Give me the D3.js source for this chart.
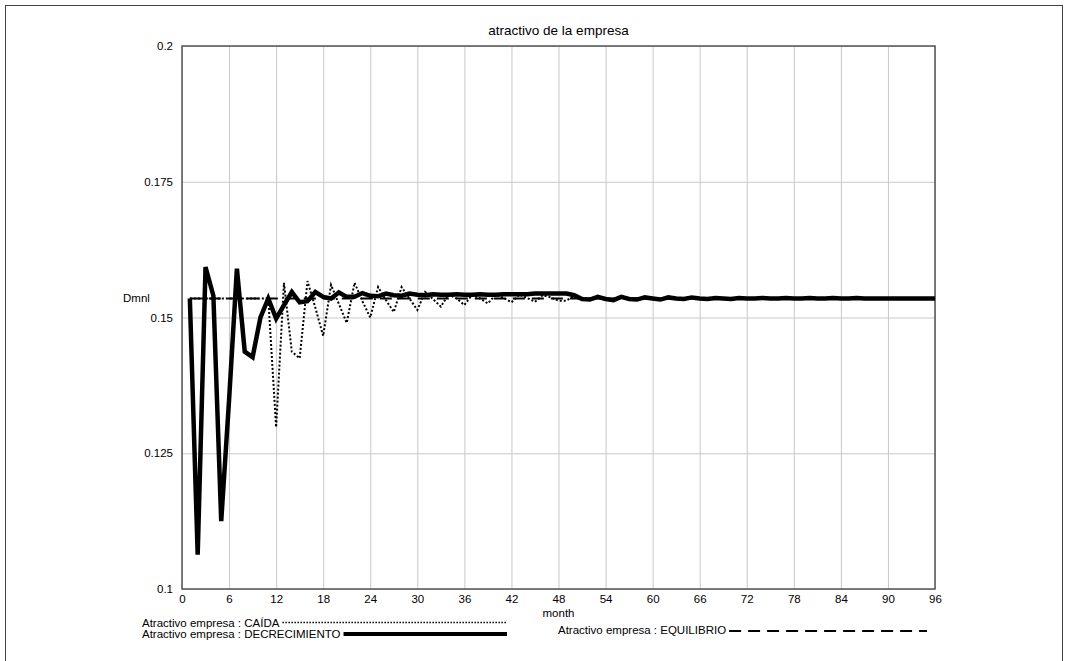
<!DOCTYPE html>
<html>
<head>
<meta charset="utf-8">
<script src="https://cdn.jsdelivr.net/npm/d3@7"></script>
<style>
  body { margin: 0; background: #fff; }
  svg text { font-family: "Liberation Sans", Arial, sans-serif; fill: #000; }
</style>
</head>
<body>
<div class="chart-container"></div>
<script>
// month index of each point (simulation runs month 1 .. 96)
const months = [
  1, 2, 3, 4, 5, 6, 7, 8, 9, 10, 11, 12, 13, 14, 15, 16, 17, 18, 19, 20,
  21, 22, 23, 24, 25, 26, 27, 28, 29, 30, 31, 32, 33, 34, 35, 36, 37, 38, 39, 40,
  41, 42, 43, 44, 45, 46, 47, 48, 49, 50, 51, 52, 53, 54, 55, 56, 57, 58, 59, 60,
  61, 62, 63, 64, 65, 66, 67, 68, 69, 70, 71, 72, 73, 74, 75, 76, 77, 78, 79, 80,
  81, 82, 83, 84, 85, 86, 87, 88, 89, 90, 91, 92, 93, 94, 95, 96
];

const caida = [
  0.1535, 0.1535, 0.1535, 0.1535, 0.1535, 0.1535, 0.1535, 0.1535, 0.1535, 0.1535,
  0.1535, 0.1298, 0.1564, 0.1437, 0.1425, 0.1567, 0.1518, 0.1466, 0.1560, 0.1525,
  0.1490, 0.1564, 0.1530, 0.1500, 0.1556, 0.1532, 0.1510, 0.1556, 0.1535, 0.1514,
  0.1547, 0.1534, 0.1520, 0.1543, 0.1535, 0.1523, 0.1542, 0.1535, 0.1526, 0.1542,
  0.1536, 0.1528, 0.1542, 0.1536, 0.1529, 0.1541, 0.1537, 0.1531, 0.1531, 0.1540,
  0.1532, 0.1532, 0.1538, 0.1535, 0.1534, 0.1536, 0.1535, 0.1535, 0.1535, 0.1535,
  0.1535, 0.1535, 0.1535, 0.1535, 0.1535, 0.1535, 0.1535, 0.1535, 0.1535, 0.1535,
  0.1535, 0.1535, 0.1535, 0.1535, 0.1535, 0.1535, 0.1535, 0.1535, 0.1535, 0.1535,
  0.1535, 0.1535, 0.1535, 0.1535, 0.1535, 0.1535, 0.1535, 0.1535, 0.1535, 0.1535,
  0.1535, 0.1535, 0.1535, 0.1535, 0.1535, 0.1535
];

const decrecimiento = [
  0.1535, 0.1063, 0.1593, 0.1540, 0.1125, 0.1348, 0.1590, 0.1437, 0.1427, 0.1500,
  0.1535, 0.1498, 0.1523, 0.1547, 0.1528, 0.1530, 0.1547, 0.1538, 0.1535, 0.1546,
  0.1538, 0.1538, 0.1545, 0.1540, 0.1539, 0.1544, 0.1541, 0.1540, 0.1544, 0.1542,
  0.1541, 0.1543, 0.1542, 0.1542, 0.1543, 0.1542, 0.1542, 0.1543, 0.1542, 0.1542,
  0.1543, 0.1543, 0.1543, 0.1543, 0.1544, 0.1544, 0.1544, 0.1544, 0.1544, 0.1541,
  0.1534, 0.1533, 0.1538, 0.1534, 0.1532, 0.1538, 0.1534, 0.1533, 0.1537, 0.1535,
  0.1533, 0.1537, 0.1535, 0.1534, 0.1537, 0.1535, 0.1534, 0.1536, 0.1535, 0.1534,
  0.1536, 0.1535, 0.1535, 0.1536, 0.1535, 0.1535, 0.1536, 0.1535, 0.1535, 0.1536,
  0.1535, 0.1535, 0.1536, 0.1535, 0.1535, 0.1536, 0.1535, 0.1535, 0.1535, 0.1535,
  0.1535, 0.1535, 0.1535, 0.1535, 0.1535, 0.1535
];

const equilibrio = [
  0.1535, 0.1535, 0.1535, 0.1535, 0.1535, 0.1535, 0.1535, 0.1535, 0.1535, 0.1535,
  0.1535, 0.1535, 0.1535, 0.1535, 0.1535, 0.1535, 0.1535, 0.1535, 0.1535, 0.1535,
  0.1535, 0.1535, 0.1535, 0.1535, 0.1535, 0.1535, 0.1535, 0.1535, 0.1535, 0.1535,
  0.1535, 0.1535, 0.1535, 0.1535, 0.1535, 0.1535, 0.1535, 0.1535, 0.1535, 0.1535,
  0.1535, 0.1535, 0.1535, 0.1535, 0.1535, 0.1535, 0.1535, 0.1535, 0.1535, 0.1535,
  0.1535, 0.1535, 0.1535, 0.1535, 0.1535, 0.1535, 0.1535, 0.1535, 0.1535, 0.1535,
  0.1535, 0.1535, 0.1535, 0.1535, 0.1535, 0.1535, 0.1535, 0.1535, 0.1535, 0.1535,
  0.1535, 0.1535, 0.1535, 0.1535, 0.1535, 0.1535, 0.1535, 0.1535, 0.1535, 0.1535,
  0.1535, 0.1535, 0.1535, 0.1535, 0.1535, 0.1535, 0.1535, 0.1535, 0.1535, 0.1535,
  0.1535, 0.1535, 0.1535, 0.1535, 0.1535, 0.1535
];

const xTicks = [0, 6, 12, 18, 24, 30, 36, 42, 48, 54, 60, 66, 72, 78, 84, 90, 96];
const yTicks = [0.1, 0.125, 0.15, 0.175, 0.2];
const yTickLabels = ["0.1", "0.125", "0.15", "0.175", "0.2"];
const seriesNames = [
  "Atractivo empresa : CAÍDA",
  "Atractivo empresa : DECRECIMIENTO",
  "Atractivo empresa : EQUILIBRIO"
];

const width = 1065;
const height = 661;
const marginTop = 46;
const marginRight = 130;
const marginBottom = 72;
const marginLeft = 182;

const svg = d3.select('.chart-container').append('svg')
  .attr('width', width)
  .attr('height', height);

// outer frame (bottom edge runs off the picture)
svg.append('rect')
  .attr('x', 5.5).attr('y', 5.5)
  .attr('width', 1057).attr('height', 680)
  .attr('fill', 'none').attr('stroke', '#444').attr('stroke-width', 1);

const x = d3.scaleLinear().domain([0, 96]).range([marginLeft, width - marginRight]);
const y = d3.scaleLinear().domain([0.1, 0.2]).range([height - marginBottom, marginTop]);

// grid
svg.append('g')
  .attr('class', 'grid')
  .attr('transform', `translate(0,${height - marginBottom})`)
  .call(d3.axisBottom(x).tickValues(xTicks).tickSize(-(height - marginBottom - marginTop)).tickFormat(''))
  .call(g => g.select('.domain').remove())
  .call(g => g.selectAll('line').attr('stroke', '#c8c8c8'));

svg.append('g')
  .attr('class', 'grid')
  .attr('transform', `translate(${marginLeft},0)`)
  .call(d3.axisLeft(y).tickValues(yTicks).tickSize(-(width - marginRight - marginLeft)).tickFormat(''))
  .call(g => g.select('.domain').remove())
  .call(g => g.selectAll('line').attr('stroke', '#c8c8c8'));

// plot frame
svg.append('rect')
  .attr('x', marginLeft).attr('y', marginTop)
  .attr('width', width - marginRight - marginLeft)
  .attr('height', height - marginBottom - marginTop)
  .attr('fill', 'none').attr('stroke', '#555').attr('stroke-width', 1.5);

// axes labels
svg.append('g')
  .attr('transform', `translate(0,${height - marginBottom})`)
  .call(d3.axisBottom(x).tickValues(xTicks).tickSize(0).tickPadding(6))
  .call(g => g.select('.domain').remove())
  .call(g => g.selectAll('text').style('font-size', '11.5px'));

svg.append('g')
  .attr('transform', `translate(${marginLeft},0)`)
  .call(d3.axisLeft(y).tickValues(yTicks).tickSize(0).tickPadding(9)
    .tickFormat((d, i) => yTickLabels[i]))
  .call(g => g.select('.domain').remove())
  .call(g => g.selectAll('text').style('font-size', '11.5px'));

svg.append('text')
  .attr('x', (marginLeft + width - marginRight) / 2)
  .attr('y', 617)
  .attr('text-anchor', 'middle')
  .style('font-size', '11.5px')
  .text('month');

svg.append('text')
  .attr('x', 123)
  .attr('y', 302)
  .style('font-size', '11.5px')
  .text('Dmnl');

svg.append('text')
  .attr('x', (marginLeft + width - marginRight) / 2)
  .attr('y', 35)
  .attr('text-anchor', 'middle')
  .style('font-size', '13.5px')
  .text('atractivo de la empresa');

// lines
const line = d3.line()
  .x((d, i) => x(months[i]))
  .y(d => y(d));

svg.append('path')
  .datum(equilibrio)
  .attr('fill', 'none')
  .attr('stroke', '#000')
  .attr('stroke-width', 2)
  .attr('stroke-dasharray', '12,7')
  .attr('d', line);

svg.append('path')
  .datum(caida)
  .attr('fill', 'none')
  .attr('stroke', '#000')
  .attr('stroke-width', 2)
  .attr('stroke-dasharray', '2,2')
  .attr('d', line);

svg.append('path')
  .datum(decrecimiento)
  .attr('fill', 'none')
  .attr('stroke', '#000')
  .attr('stroke-width', 4.5)
  .attr('stroke-linejoin', 'miter')
  .attr('d', line);

// legend
const legendItems = [
  { name: seriesNames[0], tx: 142, ty: 627, ly: 622.5, end: 507, w: 1.5, dash: '1.5,1.5' },
  { name: seriesNames[1], tx: 142, ty: 638, ly: 634, end: 507, w: 4, dash: null },
  { name: seriesNames[2], tx: 558, ty: 634, ly: 631, end: 927, w: 2, dash: '12,7' }
];

legendItems.forEach(item => {
  const t = svg.append('text')
    .attr('x', item.tx)
    .attr('y', item.ty)
    .style('font-size', '11.5px')
    .text(item.name);
  const len = t.node().getComputedTextLength();
  svg.append('line')
    .attr('x1', item.tx + len + 3)
    .attr('x2', item.end)
    .attr('y1', item.ly)
    .attr('y2', item.ly)
    .attr('stroke', '#000')
    .attr('stroke-width', item.w)
    .attr('stroke-dasharray', item.dash);
});
</script>
</body>
</html>
